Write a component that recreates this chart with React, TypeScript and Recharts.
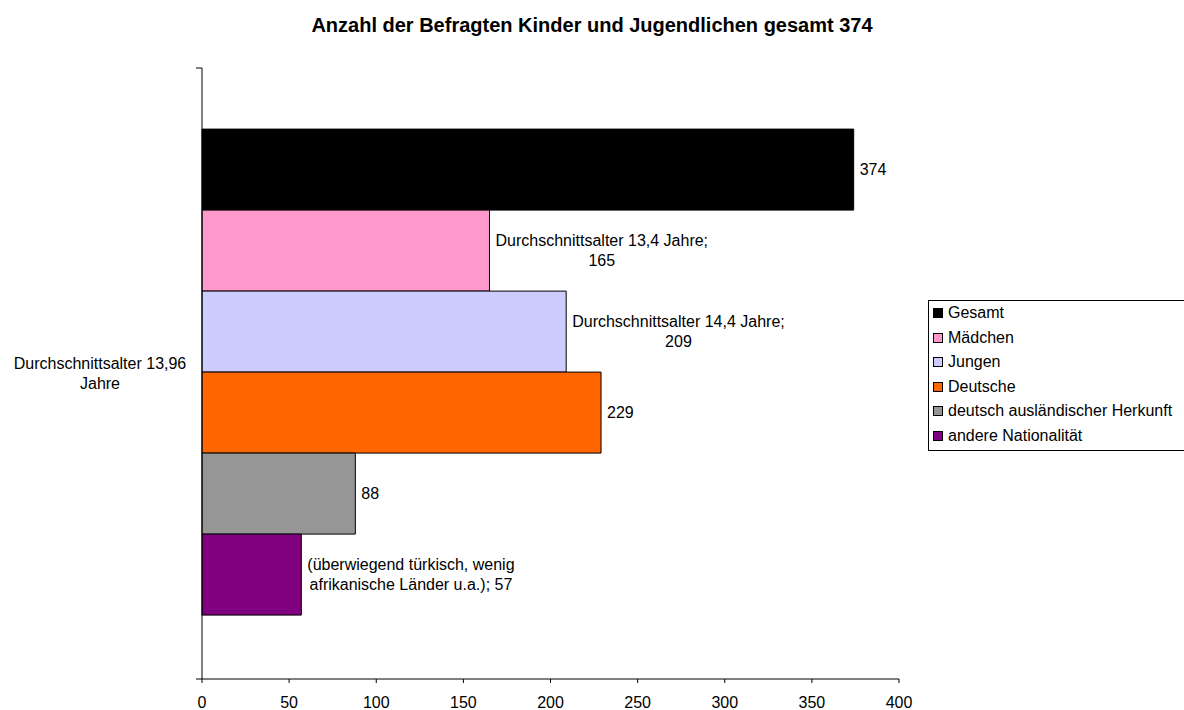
import React from 'react';
import * as Recharts from 'recharts';
import { BarChart, Bar, XAxis, YAxis, LabelList, Customized } from 'recharts';

const categories = ['Durchschnittsalter 13,96 Jahre'];
const categoryLines = [['Durchschnittsalter 13,96', 'Jahre']];
const seriesNames = ['Gesamt', 'Mädchen', 'Jungen', 'Deutsche', 'deutsch ausländischer Herkunft', 'andere Nationalität'];
const seriesValues = [374, 165, 209, 229, 88, 57];
const seriesColors = ['#000000', '#FF99CC', '#CCCCFF', '#FF6600', '#969696', '#800080'];
const seriesLabels = [
  ['374'],
  ['Durchschnittsalter 13,4 Jahre;', '165'],
  ['Durchschnittsalter 14,4 Jahre;', '209'],
  ['229'],
  ['88'],
  ['(überwiegend türkisch, wenig', 'afrikanische Länder u.a.); 57'],
];
const xTicks = [0, 50, 100, 150, 200, 250, 300, 350, 400];
const title = 'Anzahl der Befragten Kinder und Jugendlichen gesamt 374';

const FONT = '"Liberation Sans", Arial, sans-serif';
const LABEL_SIZE = 16;

const keys = seriesNames.map((_, i) => 's' + i);
const data = categories.map((c) => {
  const row: any = { name: c };
  keys.forEach((k, i) => (row[k] = seriesValues[i]));
  return row;
});

let ctx: CanvasRenderingContext2D | null = null;
function measure(t: string): number {
  if (!ctx) {
    const c = document.createElement('canvas');
    ctx = c.getContext('2d');
  }
  if (!ctx) return t.length * 8;
  ctx.font = `${LABEL_SIZE}px ${FONT}`;
  return ctx.measureText(t).width;
}

const makeLabel = (idx: number) => (props: any) => {
  const { x, y, width, height } = props;
  const lines = seriesLabels[idx];
  const maxW = Math.max(...lines.map(measure));
  const left = x + width + 6;
  const cy = y + height / 2;
  const lh = 20;
  const startY = cy - ((lines.length - 1) * lh) / 2;
  return (
    <g>
      {lines.map((l, i) => (
        <text
          key={i}
          x={lines.length > 1 ? left + maxW / 2 : left}
          y={startY + i * lh}
          textAnchor={lines.length > 1 ? 'middle' : 'start'}
          dominantBaseline="central"
          fontSize={LABEL_SIZE}
          fontFamily={FONT}
          fill="#000"
        >
          {l}
        </text>
      ))}
    </g>
  );
};

const YTick = (props: any) => {
  const { y, payload } = props;
  const idx = categories.indexOf(payload.value);
  const lines = idx >= 0 ? categoryLines[idx] : [payload.value];
  const lh = 20;
  const startY = y - ((lines.length - 1) * lh) / 2;
  return (
    <g>
      {lines.map((l, i) => (
        <text
          key={i}
          x={100}
          y={startY + i * lh}
          textAnchor="middle"
          dominantBaseline="central"
          fontSize={LABEL_SIZE}
          fontFamily={FONT}
          fill="#000"
        >
          {l}
        </text>
      ))}
    </g>
  );
};

const R: any = Recharts;
const usePlotAreaSafe: () => any = typeof R.usePlotArea === 'function' ? R.usePlotArea : () => null;

// category-boundary tick marks on the category axis (as Excel draws them)
const BoundaryTicks = () => {
  const area = usePlotAreaSafe();
  if (!area) return null;
  const { x, y, height } = area;
  return (
    <g stroke="#000" strokeWidth={1}>
      <line x1={x - 6} y1={y} x2={x} y2={y} />
      <line x1={x - 6} y1={y + height} x2={x} y2={y + height} />
    </g>
  );
};

const LegendBox = () => (
  <div
    style={{
      position: 'absolute',
      left: 928,
      top: 300,
      width: 256,
      height: 151,
      border: '1px solid #000',
      borderRight: 'none',
      background: '#fff',
      padding: '0 0 0 4px',
      fontFamily: FONT,
      fontSize: LABEL_SIZE,
      boxSizing: 'border-box',
      color: '#000',
    }}
  >
    {seriesNames.map((n, i) => (
      <div key={n} style={{ display: 'flex', alignItems: 'center', height: 24.5, whiteSpace: 'nowrap' }}>
        <span
          style={{
            display: 'inline-block',
            width: 10,
            height: 10,
            boxSizing: 'border-box',
            background: seriesColors[i],
            border: '1px solid #000',
            marginRight: 5,
            flex: 'none',
          }}
        />
        <span>{n}</span>
      </div>
    ))}
  </div>
);

export default function App() {
  return (
    <div style={{ position: 'absolute', left: 0, top: 0, width: 1184, height: 710, background: '#fff', overflow: 'hidden' }}>
      <div
        style={{
          position: 'absolute',
          left: 0,
          top: 13,
          width: 1184,
          textAlign: 'center',
          fontFamily: FONT,
          fontWeight: 'bold',
          fontSize: 20,
          lineHeight: '24px',
          color: '#000',
        }}
      >
        {title}
      </div>
      <BarChart
        width={1184}
        height={710}
        data={data}
        layout="vertical"
        margin={{ top: 68, right: 285, bottom: 0, left: 12 }}
        barCategoryGap="10%"
        barGap={0}
      >
        <XAxis
          type="number"
          domain={[0, 400]}
          ticks={xTicks}
          interval={0}
          height={31}
          tickSize={4}
          tickMargin={14}
          stroke="#000"
          tick={{ fill: '#000', fontSize: LABEL_SIZE, fontFamily: FONT }}
          axisLine={{ stroke: '#000' }}
          tickLine={{ stroke: '#000' }}
        />
        <YAxis
          type="category"
          dataKey="name"
          width={190}
          tickLine={false}
          axisLine={{ stroke: '#000' }}
          tick={<YTick />}
        />
        {keys.map((k, i) => (
          <Bar
            key={k}
            dataKey={k}
            name={seriesNames[i]}
            fill={seriesColors[i]}
            stroke="#000"
            strokeWidth={1}
            isAnimationActive={false}
          >
            <LabelList dataKey={k} content={makeLabel(i)} />
          </Bar>
        ))}
        <Customized component={<BoundaryTicks />} />
      </BarChart>
      <LegendBox />
    </div>
  );
}
